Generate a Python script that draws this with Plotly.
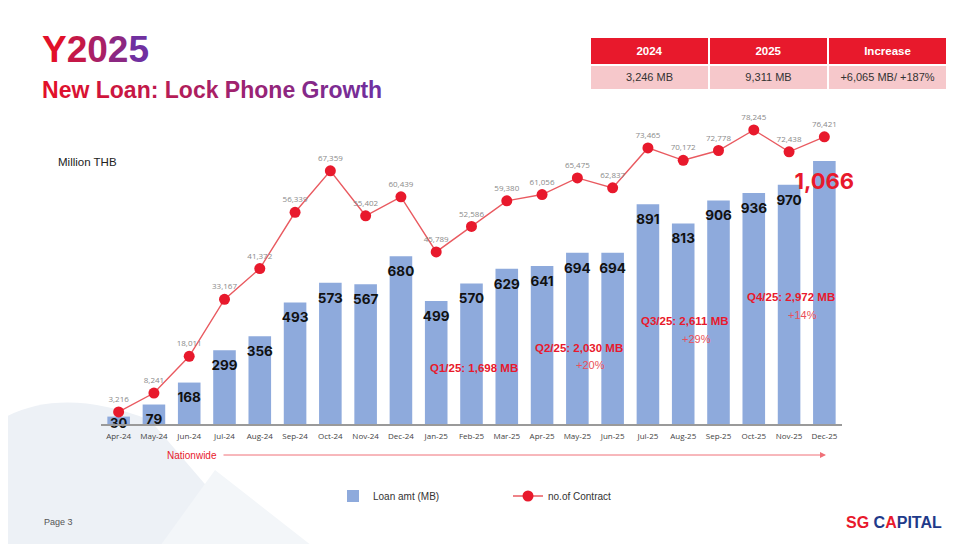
import plotly.graph_objects as go

W, H = 954, 544
OFF = 8  # page body margin of the rendered html


def px(x):
    return (x - OFF) / W


def py(y):
    return 1 - (y - OFF) / H


# ---------------- data ----------------
months = ["Apr-24", "May-24", "Jun-24", "Jul-24", "Aug-24", "Sep-24", "Oct-24",
          "Nov-24", "Dec-24", "Jan-25", "Feb-25", "Mar-25", "Apr-25", "May-25",
          "Jun-25", "Jul-25", "Aug-25", "Sep-25", "Oct-25", "Nov-25", "Dec-25"]
loan_mb = [30, 79, 168, 299, 356, 493, 573, 567, 680, 499, 570, 629, 641, 694,
           694, 891, 813, 906, 936, 970, 1066]
contracts = [3216, 8241, 18011, 33167, 41372, 56339, 67359, 55402, 60439, 45789,
             52586, 59380, 61056, 65475, 62837, 73465, 70172, 72778, 78245,
             72438, 76421]

table_header = ["2024", "2025", "Increase"]
table_values = ["3,246 MB", "9,311 MB", "+6,065 MB/ +187%"]

quarter_names = ["Q1/25", "Q2/25", "Q3/25", "Q4/25"]
quarter_amt = ["1,698", "2,030", "2,611", "2,972"]
quarter_growth = ["", "+20%", "+29%", "+14%"]
quarter_center = ["Feb-25", "May-25", "Aug-25", "Nov-25"]

# ---------------- styles ----------------
RED = "#e8192c"
BLUE = "#8eaadc"
FONT = "Liberation Sans"

fig = go.Figure()

fig.add_trace(go.Bar(
    x=months, y=loan_mb, name="Loan amt (MB)",
    marker=dict(color=BLUE, line=dict(width=0)),
    yaxis="y", hoverinfo="skip",
))

# bar value labels (invisible markers push the text inside the bar top)
n = len(loan_mb)
lbl_color = ["#111111"] * (n - 1) + [RED]
lbl_size = [13] + [13.5] * (n - 2) + [22]
lbl_msize = [1] + [14] * (n - 2) + [16]
fig.add_trace(go.Scatter(
    x=months, y=loan_mb, mode="markers+text",
    marker=dict(size=lbl_msize, opacity=0, color="white"),
    text=[f"{v:,}" if v >= 1000 else str(v) for v in loan_mb],
    textposition="bottom center",
    textfont=dict(family="Inter", size=lbl_size, color=lbl_color, weight="bold"),
    showlegend=False, hoverinfo="skip", yaxis="y", cliponaxis=False,
))

fig.add_trace(go.Scatter(
    x=months, y=contracts, name="no.of Contract", mode="lines+markers+text",
    line=dict(color="#e95a60", width=1.4),
    marker=dict(color=RED, size=11),
    text=[f"{v:,}" for v in contracts], textposition="top center",
    textfont=dict(family="Open Sans", size=8, color="#8a8a8a"),
    yaxis="y2", hoverinfo="skip", cliponaxis=False,
))

# summary table
fig.add_trace(go.Table(
    domain=dict(x=[px(590), px(947)], y=[py(90), py(37)]),
    columnwidth=[1, 1, 1],
    header=dict(values=[f"<b>{h}</b>" for h in table_header],
                fill_color=RED, line=dict(color="white", width=2),
                font=dict(family=FONT, size=11.5, color="white"),
                align="center", height=25),
    cells=dict(values=[[v] for v in table_values],
               fill_color="#f6c8cb", line=dict(color="white", width=2),
               font=dict(family=FONT, size=11, color="#333333"),
               align="center", height=25),
))

annotations = []


def gradient_text(s, c0=(226, 16, 42), c1=(112, 48, 160)):
    m = max(len(s) - 1, 1)
    parts = []
    for i, ch in enumerate(s):
        t = i / m
        c = tuple(int(c0[k] + (c1[k] - c0[k]) * t) for k in range(3))
        parts.append(f'<span style="color:rgb{c}">{ch}</span>')
    return "".join(parts)


annotations.append(dict(x=px(40), y=py(50), xref="paper", yref="paper",
                        xanchor="left", yanchor="middle", showarrow=False,
                        text="<b>" + gradient_text("Y2025") + "</b>",
                        font=dict(family=FONT, size=37)))
annotations.append(dict(x=px(40), y=py(90), xref="paper", yref="paper",
                        xanchor="left", yanchor="middle", showarrow=False,
                        text="<b>" + gradient_text("New Loan: Lock Phone Growth") + "</b>",
                        font=dict(family=FONT, size=23)))
annotations.append(dict(x=px(56), y=py(162), xref="paper", yref="paper",
                        xanchor="left", yanchor="middle", showarrow=False,
                        text="Million THB",
                        font=dict(family=FONT, size=11.5, color="#222222")))

# quarter annotations
q_amt_y = [376, 348, 321, 297]
q_gr_y = [0, 365, 339, 315]
for i, q in enumerate(quarter_names):
    annotations.append(dict(x=quarter_center[i], xref="x", y=py(q_amt_y[i]), yref="paper",
                            showarrow=False, xshift=2,
                            text=f"<b>{q}: {quarter_amt[i]} MB</b>",
                            font=dict(family=FONT, size=11.5, color=RED)))
    if quarter_growth[i]:
        annotations.append(dict(x=quarter_center[i], xref="x", y=py(q_gr_y[i]), yref="paper",
                                showarrow=False, xshift=13,
                                text=quarter_growth[i],
                                font=dict(family=FONT, size=11, color="#e8505a")))

# nationwide arrow
annotations.append(dict(x=px(165), y=py(455), xref="paper", yref="paper",
                        xanchor="left", yanchor="middle", showarrow=False,
                        text="Nationwide",
                        font=dict(family=FONT, size=10, color=RED)))
annotations.append(dict(x=px(826), y=py(455), xref="paper", yref="paper",
                        ax=-604, ay=0, axref="pixel", ayref="pixel",
                        showarrow=True, arrowhead=2, arrowsize=1.2, arrowwidth=1,
                        arrowcolor="#f07078", text=""))

# footer
annotations.append(dict(x=px(42), y=py(522), xref="paper", yref="paper",
                        xanchor="left", yanchor="middle", showarrow=False,
                        text="Page 3", font=dict(family=FONT, size=9, color="#555555")))
annotations.append(dict(x=px(944), y=py(522), xref="paper", yref="paper",
                        xanchor="right", yanchor="middle", showarrow=False,
                        text=f'<b><span style="color:{RED}">SG</span> '
                             f'<span style="color:#1f3a8a">C</span>'
                             f'<span style="color:{RED}">A</span>'
                             f'<span style="color:#1f3a8a">PITAL</span></b>',
                        font=dict(family=FONT, size=16)))

shapes = [
    # decorative background swooshes
    dict(type="path", xref="paper", yref="paper", layer="below",
         path=f"M {px(0)} {py(560)} L {px(0)} {py(420)} Q {px(60)} {py(385)} {px(150)} {py(420)} "
              f"L {px(270)} {py(560)} Z",
         fillcolor="#edf1f6", line=dict(width=0)),
    dict(type="path", xref="paper", yref="paper", layer="below",
         path=f"M {px(150)} {py(560)} L {px(215)} {py(470)} L {px(330)} {py(560)} Z",
         fillcolor="#f3f6f9", line=dict(width=0)),
    dict(type="line", xref="paper", yref="paper", layer="below",
         x0=px(951), x1=px(951), y0=py(510), y1=py(8),
         line=dict(color="#dddddd", width=1)),
]

fig.update_layout(
    width=W, height=H,
    margin=dict(l=0, r=0, t=0, b=0),
    paper_bgcolor="white", plot_bgcolor="rgba(0,0,0,0)",
    bargap=0.36,
    showlegend=True,
    legend=dict(orientation="h", x=px(333), y=py(496), xanchor="left", yanchor="middle",
                entrywidth=130, entrywidthmode="pixels",
                font=dict(family=FONT, size=10, color="#333333"),
                bgcolor="rgba(0,0,0,0)"),
    xaxis=dict(domain=[px(101), px(842)], type="category", range=[-0.5, 20.5],
               showline=True, linecolor="#9a9a9a", linewidth=1.5,
               showgrid=False, ticks="", zeroline=False, ticklabelstandoff=4,
               tickfont=dict(family="Open Sans", size=8, color="#444444")),
    yaxis=dict(domain=[py(424), py(110)], range=[0, 1273],
               visible=False, showgrid=False, zeroline=False),
    yaxis2=dict(domain=[py(424), py(110)], range=[0, 83555], overlaying="y",
                side="right", visible=False, showgrid=False, zeroline=False),
    annotations=annotations,
    shapes=shapes,
)

fig.write_html("out.html")
